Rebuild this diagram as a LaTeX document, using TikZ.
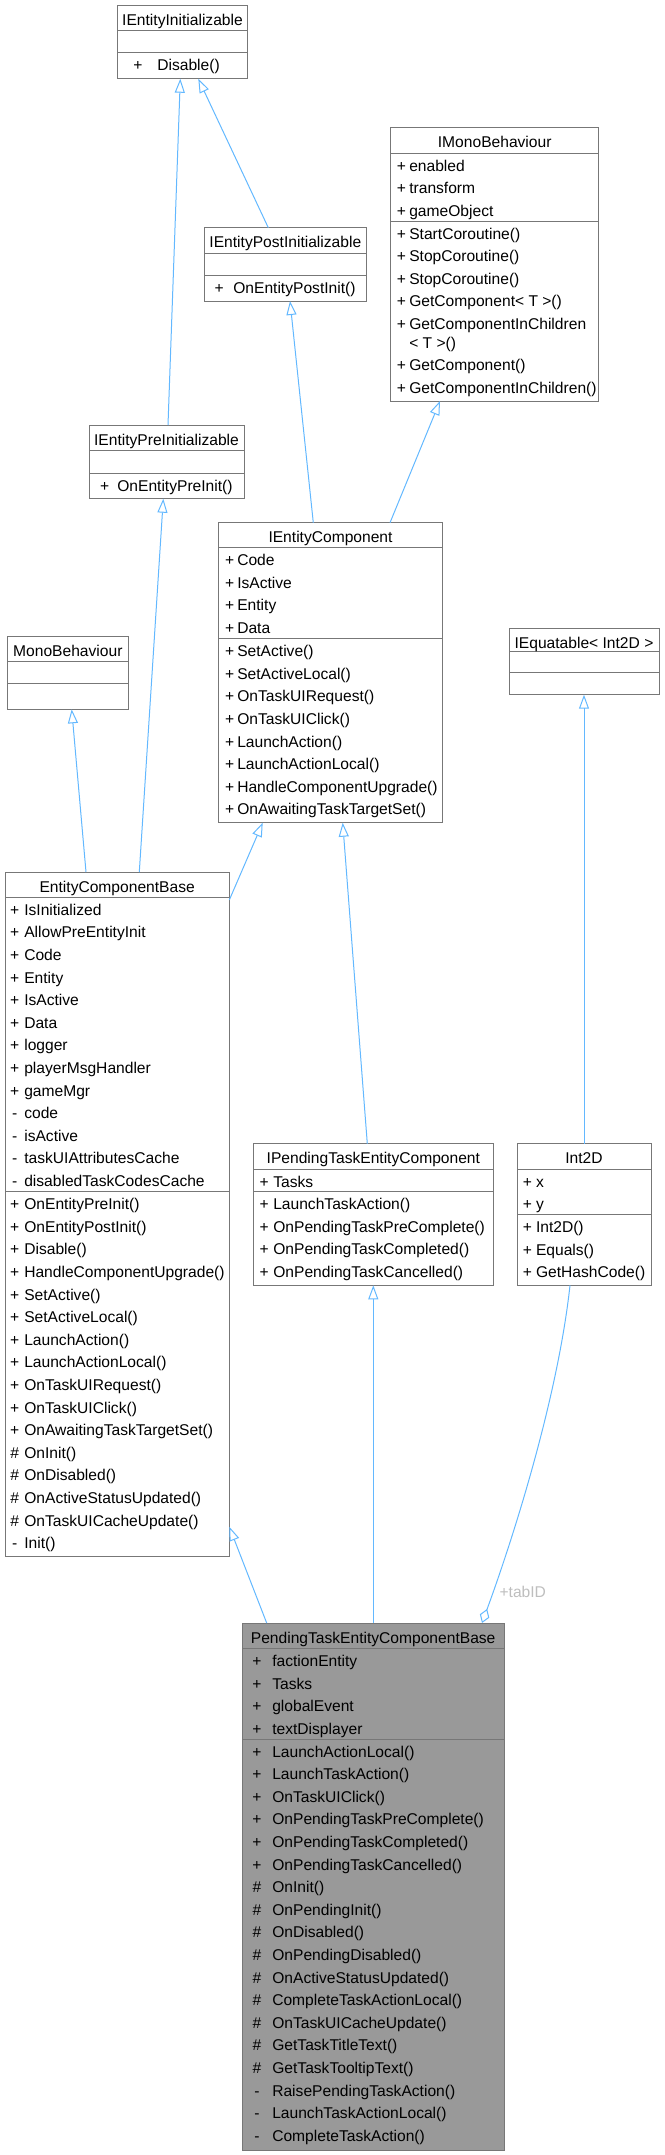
\documentclass[tikz,border=0pt]{standalone}
\usepackage{fontspec}
\setmainfont{Liberation Sans}
\usetikzlibrary{arrows.meta,calc}
\definecolor{edgec}{HTML}{63B8FF}
\definecolor{bord}{HTML}{777777}
\definecolor{focusc}{HTML}{999999}
\definecolor{lblc}{HTML}{BEBEBE}
\tikzset{
  txt/.style={font=\fontsize{15.6}{18}\selectfont, inner sep=0pt, outer sep=0pt, text=black},
  cls/.style={draw=bord, fill=white, line width=1pt, inner sep=0pt, outer sep=0pt, rectangle},
  focusbox/.style={draw=bord, fill=focusc, line width=1pt, inner sep=0pt, outer sep=0pt, rectangle},
  divl/.style={draw=bord, line width=1pt},
  inh/.style={draw=edgec, line width=1pt, -{Triangle[open,length=14pt,width=10pt]}},
  agg/.style={draw=edgec, line width=1pt, -{Diamond[open,length=15pt,width=10pt]}},
  lbl/.style={font=\fontsize{15.6}{18}\selectfont, inner sep=0pt, outer sep=0pt, text=lblc}
}
\newcommand\umlbox[9]{%
  \pgfmathsetmacro\bw{#4-#2}\pgfmathsetmacro\bh{#5-#3}%
  \node[#9, anchor=north west, minimum width=\bw pt, minimum height=\bh pt] (#1) at (#2,#3) {};
  \draw[divl] (#1.north west |- 0,#6) -- (#1.north east |- 0,#6);
  \draw[divl] (#1.north west |- 0,#7) -- (#1.north east |- 0,#7);
  \node[txt, anchor=base] (#1-title) at ($(#1.north)+(0,20)$) {#8};
}
\newcommand\mlist[5]{%
  \foreach \sg/\nm [count=\i from 0] in {#5}{%
    \node[txt, anchor=base] (#1-s\i) at (#2,{#4+18+\i*22.6}) {\sg};
    \node[txt, anchor=base west] (#1-n\i) at (#3,{#4+18+\i*22.6}) {\nm};
  }%
}
\begin{document}
\begin{tikzpicture}[x=1pt,y=-1pt]
\useasboundingbox (0,0) rectangle (664,2155);

% IEntityInitializable
\umlbox{ieinit}{117.7}{5}{247.3}{78.7}{30.7}{52.7}{IEntityInitializable}{cls}
\mlist{ieinit}{137.9}{157.3}{52.7}{+/Disable()}

% IEntityPostInitializable
\umlbox{iepost}{204.7}{227.7}{366}{301}{253.3}{275.7}{IEntityPostInitializable}{cls}
\mlist{iepost}{219.3}{233.3}{275.7}{+/OnEntityPostInit()}

% IMonoBehaviour
\umlbox{imono}{390.7}{127.7}{598.7}{401}{153.3}{221}{IMonoBehaviour}{cls}
\mlist{imonoa}{401.3}{409.3}{153.3}{+/enabled,+/transform,+/gameObject}
\mlist{imonom}{401.3}{409.3}{221}{+/StartCoroutine(),+/StopCoroutine(),+/StopCoroutine(),+/GetComponent< T >(),+/GetComponentInChildren}
\node[txt, anchor=base west] (imono-wrap) at (409.3,348) {< T >()};
\mlist{imonon}{401.3}{409.3}{352.6}{+/GetComponent(),+/GetComponentInChildren()}

% IEntityPreInitializable
\umlbox{iepre}{89}{425}{244}{498.7}{450.7}{473}{IEntityPreInitializable}{cls}
\mlist{iepre}{104.6}{117.3}{473}{+/OnEntityPreInit()}

% IEntityComponent
\umlbox{iecomp}{218.3}{522.7}{442.7}{822.7}{547.7}{638.7}{IEntityComponent}{cls}
\mlist{iecompa}{229.6}{237.3}{547.7}{+/Code,+/IsActive,+/Entity,+/Data}
\mlist{iecompm}{229.6}{237.3}{638.7}{+/SetActive(),+/SetActiveLocal(),+/OnTaskUIRequest(),+/OnTaskUIClick(),+/LaunchAction(),+/LaunchActionLocal(),+/HandleComponentUpgrade(),+/OnAwaitingTaskTargetSet()}

% MonoBehaviour
\umlbox{mono}{7}{636}{128.7}{709.3}{661.3}{683.7}{MonoBehaviour}{cls}

% IEquatable< Int2D >
\umlbox{iequat}{509}{628.3}{659}{694.7}{651}{672}{IEquatable< Int2D >}{cls}

% EntityComponentBase
\umlbox{ecb}{5}{872}{229.3}{1556.7}{897.3}{1191.7}{EntityComponentBase}{cls}
\mlist{ecba}{14.8}{24.3}{897.3}{+/IsInitialized,+/AllowPreEntityInit,+/Code,+/Entity,+/IsActive,+/Data,+/logger,+/playerMsgHandler,+/gameMgr,-/code,-/isActive,-/taskUIAttributesCache,-/disabledTaskCodesCache}
\mlist{ecbm}{14.8}{24.3}{1191.7}{+/OnEntityPreInit(),+/OnEntityPostInit(),+/Disable(),+/HandleComponentUpgrade(),+/SetActive(),+/SetActiveLocal(),+/LaunchAction(),+/LaunchActionLocal(),+/OnTaskUIRequest(),+/OnTaskUIClick(),+/OnAwaitingTaskTargetSet(),\#/OnInit(),\#/OnDisabled(),\#/OnActiveStatusUpdated(),\#/OnTaskUICacheUpdate(),-/Init()}

% IPendingTaskEntityComponent
\umlbox{iptec}{253.7}{1143.7}{493}{1285.3}{1169.3}{1191.7}{IPendingTaskEntityComponent}{cls}
\mlist{ipteca}{264.3}{273.3}{1169.3}{+/Tasks}
\mlist{iptecm}{264.3}{273.3}{1191.7}{+/LaunchTaskAction(),+/OnPendingTaskPreComplete(),+/OnPendingTaskCompleted(),+/OnPendingTaskCancelled()}

% Int2D
\umlbox{int2d}{517}{1143.7}{651}{1285.3}{1169.3}{1214.7}{Int2D}{cls}
\mlist{int2da}{527.3}{536}{1169.3}{+/x,+/y}
\mlist{int2dm}{527.3}{536}{1214.7}{+/Int2D(),+/Equals(),+/GetHashCode()}

% PendingTaskEntityComponentBase
\umlbox{ptecb}{242.3}{1623}{504}{2150}{1648.7}{1739}{PendingTaskEntityComponentBase}{focusbox}
\mlist{ptecba}{257}{272.3}{1648.7}{+/factionEntity,+/Tasks,+/globalEvent,+/textDisplayer}
\mlist{ptecbm}{257}{272.3}{1739}{+/LaunchActionLocal(),+/LaunchTaskAction(),+/OnTaskUIClick(),+/OnPendingTaskPreComplete(),+/OnPendingTaskCompleted(),+/OnPendingTaskCancelled(),\#/OnInit(),\#/OnPendingInit(),\#/OnDisabled(),\#/OnPendingDisabled(),\#/OnActiveStatusUpdated(),\#/CompleteTaskActionLocal(),\#/OnTaskUICacheUpdate(),\#/GetTaskTitleText(),\#/GetTaskTooltipText(),-/RaisePendingTaskAction(),-/LaunchTaskActionLocal(),-/CompleteTaskAction()}

% Connectors
\draw[inh] ($(iepre.north west)+(79,0)$) -- ($(ieinit.south west)+(62.6,0)$);
\draw[inh] ($(iepost.north west)+(63.6,0)$) -- ($(ieinit.south west)+(80.6,0)$);
\draw[inh] ($(iecomp.north west)+(95,0)$) -- ($(iepost.south west)+(85.3,0)$);
\draw[inh] ($(iecomp.north west)+(171.7,0)$) -- ($(imono.south west)+(49.3,0)$);
\draw[inh] ($(ecb.north west)+(81,0)$) -- ($(mono.south west)+(64.7,0)$);
\draw[inh] ($(ecb.north west)+(134.3,0)$) -- ($(iepre.south west)+(74.3,0)$);
\draw[inh] ($(ecb.north east)+(0,28)$) -- ($(iecomp.south west)+(44.4,0)$);
\draw[inh] ($(iptec.north west)+(113.6,0)$) -- ($(iecomp.south west)+(124.4,0)$);
\draw[inh] ($(int2d.north west)+(67,0)$) -- ($(iequat.south west)+(75,0)$);
\draw[inh] ($(ptecb.north west)+(24.4,0)$) -- ($(ecb.south east)+(0,-30)$);
\draw[inh] ($(ptecb.north west)+(131,0)$) -- ($(iptec.south west)+(119.6,0)$);
\draw[agg] ($(int2d.south west)+(53,0)$) .. controls +(-12,110) and +(33,-90) .. ($(ptecb.north west)+(239.7,0)$);
\node[lbl] (tabid) at (522.8,1591.7) {+tabID};
\end{tikzpicture}
\end{document}
